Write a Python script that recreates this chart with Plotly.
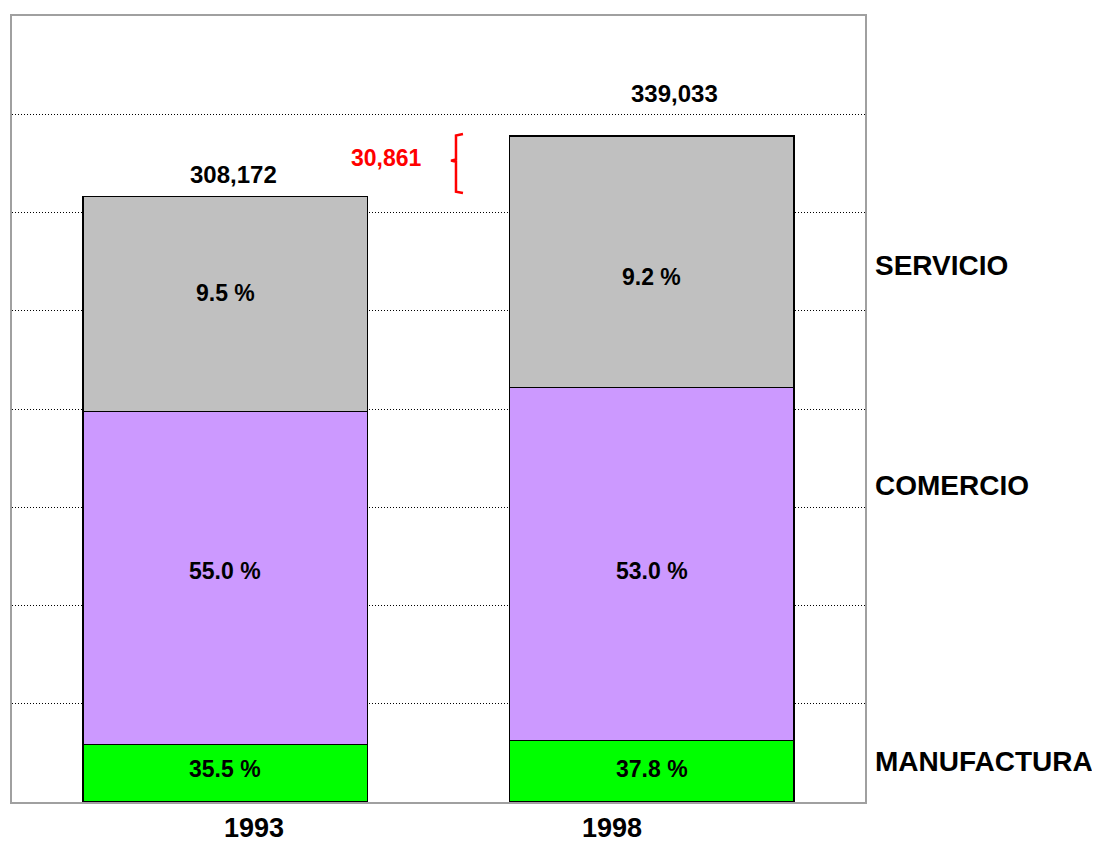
import plotly.graph_objects as go

years = ["1993", "1998"]
totals = [308172, 339033]

# segment heights as drawn in the picture
manufactura = [29300, 31200]
comercio = [169500, 179700]
servicio = [109372, 128133]

# percent labels as printed on the bars
manufactura_pct = ["35.5 %", "37.8 %"]
comercio_pct = ["55.0 %", "53.0 %"]
servicio_pct = ["9.5 %", "9.2 %"]

sectors = ["MANUFACTURA", "COMERCIO", "SERVICIO"]

FONT = "Liberation Sans, Arial, sans-serif"
colors = {"MANUFACTURA": "#00ff00", "COMERCIO": "#cc99ff", "SERVICIO": "#c0c0c0"}

fig = go.Figure()
layers = [
    ("MANUFACTURA", manufactura, manufactura_pct, [4, 2]),
    ("COMERCIO", comercio, comercio_pct, [7, -7]),
    ("SERVICIO", servicio, servicio_pct, [11, -15]),
]
base = [0, 0]
for name, vals, pct, nudge in layers:
    fig.add_trace(
        go.Bar(
            x=years,
            y=vals,
            name=name,
            marker=dict(color=colors[name], line=dict(color="black", width=1.5)),
            hoverinfo="skip",
        )
    )
    # percent label in each segment, nudged like the original
    for i in range(len(years)):
        fig.add_annotation(
            x=i, y=base[i] + vals[i] / 2, text=pct[i], showarrow=False,
            yshift=nudge[i],
            font=dict(family=FONT, size=23, color="black", weight="bold"),
        )
        base[i] += vals[i]

# page body adds 8px around the figure
fig.update_layout(
    barmode="stack",
    bargap=0.334,
    showlegend=False,
    width=1092,
    height=841,
    margin=dict(l=4, r=235, t=8, b=47),
    plot_bgcolor="white",
    paper_bgcolor="white",
    font=dict(family=FONT, color="black"),
)
fig.update_yaxes(
    range=[0, 400000],
    dtick=50000,
    showticklabels=False,
    showgrid=True,
    gridcolor="black",
    gridwidth=1,
    griddash="1px,2px",
    zeroline=False,
    showline=True,
    mirror=True,
    linecolor="#a0a0a0",
    linewidth=2,
)
fig.update_xaxes(
    type="category",
    range=[-0.5, 1.5],
    showticklabels=False,
    showline=True,
    mirror=True,
    linecolor="#a0a0a0",
    linewidth=2,
)

# totals above the bars
for i, (tot, dx, dy) in enumerate(zip(totals, [8, 23], [22, 42])):
    fig.add_annotation(
        x=i, y=tot, text=f"{tot:,}", showarrow=False,
        xshift=dx, yshift=dy,
        font=dict(family=FONT, size=24, color="black", weight="bold"),
    )

# year labels under the bars
for i, (yr, dx) in enumerate(zip(years, [29, -40])):
    fig.add_annotation(
        x=i, y=0, text=yr, showarrow=False,
        xshift=dx, yshift=-26,
        font=dict(family=FONT, size=27, color="black", weight="bold"),
    )

# sector labels at the right
for name, yv in zip(sectors, [20400, 161300, 272800]):
    fig.add_annotation(
        xref="paper", x=1.0094, y=yv, text=name, showarrow=False,
        xanchor="left",
        font=dict(family=FONT, size=28, color="black", weight="bold"),
    )

# growth between the two years, with a red brace
diff = totals[1] - totals[0]
fig.add_annotation(
    xref="paper", x=0.4395, y=(totals[0] + totals[1]) / 2, text=f"{diff:,}",
    showarrow=False, yshift=8,
    font=dict(family=FONT, size=23, color="red", weight="bold"),
)
lo, hi = totals[0] + 1700, totals[1] + 900
mid = (lo + hi) / 2 + 1500
xa, xb, xc = 0.5287, 0.5205, 0.5147
fig.add_shape(
    type="path", xref="paper", yref="y",
    path=(
        f"M {xa} {hi} L {xb} {hi - 700} L {xb} {mid + 600} "
        f"L {xc} {mid} L {xb} {mid - 600} L {xb} {lo + 700} L {xa} {lo}"
    ),
    line=dict(color="red", width=2.5),
)

fig.write_html("out.html")
